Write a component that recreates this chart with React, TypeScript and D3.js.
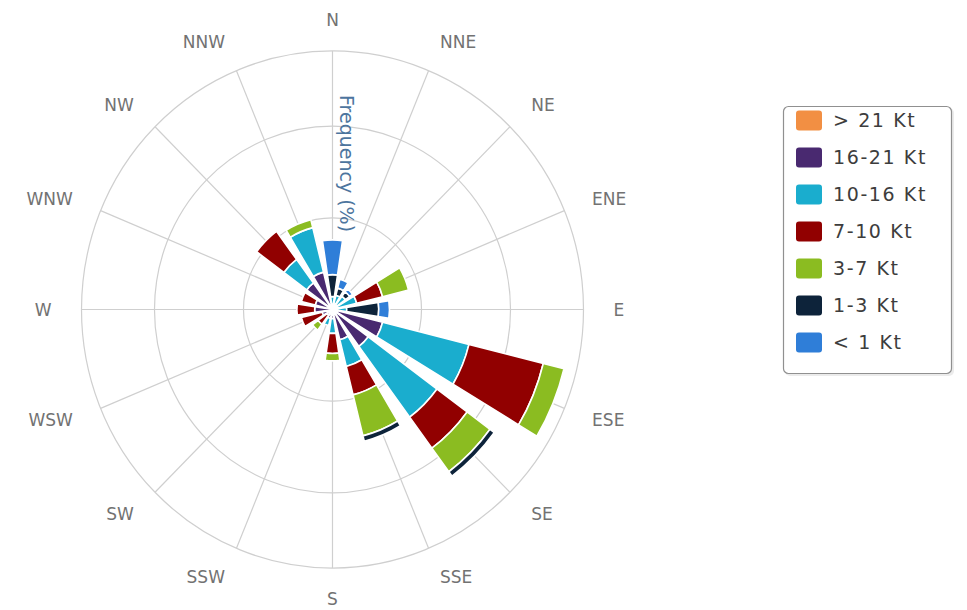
import { useEffect, useRef } from 'react';
import * as d3 from 'd3';

// 16 compass directions, clockwise from north
const directions = ['N', 'NNE', 'NE', 'ENE', 'E', 'ESE', 'SE', 'SSE', 'S', 'SSW', 'SW', 'WSW', 'W', 'WNW', 'NW', 'NNW'];

// frequency (%) per speed class, one value per direction
const over21 = [0, 0, 0, 0, 0, 0, 0, 0, 0, 0, 0, 0, 0, 0, 0, 0];
const kt16to21 = [0.3, 0.3, 0.3, 0.3, 0.3, 2.9, 2.5, 1.7, 0.5, 0.5, 0.4, 0.6, 1.0, 1.0, 1.8, 2.1];
const kt10to16 = [0.4, 0.5, 0.6, 1.1, 0.5, 5.0, 4.8, 1.5, 0.8, 0.4, 0, 0, 0, 0, 1.6, 2.5];
const kt7to10 = [0, 0, 0, 1.5, 0, 4.3, 2.1, 1.6, 1.1, 0, 0.6, 1.2, 1.0, 0.8, 1.9, 0];
const kt3to7 = [0, 0, 0, 1.5, 0, 1.2, 1.6, 2.3, 0.4, 0, 0.4, 0, 0, 0, 0, 0.45];
const kt1to3 = [1.2, 0.4, 0.3, 0, 1.8, 0, 0.3, 0.3, 0, 0, 0, 0, 0, 0, 0, 0];
const under1 = [1.9, 0.5, 0.2, 0, 0.6, 0, 0, 0, 0, 0, 0, 0, 0, 0, 0, 0];

// stacking order from the centre outwards (also the legend order, top to bottom)
const seriesKeys = ['> 21 Kt', '16-21 Kt', '10-16 Kt', '7-10 Kt', '3-7 Kt', '1-3 Kt', '< 1 Kt'];
const seriesValues = [over21, kt16to21, kt10to16, kt7to10, kt3to7, kt1to3, under1];
const seriesColors = ['#f28f43', '#492970', '#1aadce', '#910000', '#8bbc21', '#0d233a', '#2f7ed8'];

const yMax = 14.1;
const yTicks = [5, 10];

export default function App() {
  const svgRef = useRef<SVGSVGElement | null>(null);

  useEffect(() => {
    if (!svgRef.current) return;
    const W = 967, H = 610;
    const cx = 332.5, cy = 309.5;
    const R = 251;
    const sy = 1.03; // picture is slightly taller than wide

    const svg = d3.select(svgRef.current);
    svg.selectAll('*').remove();
    svg.attr('width', W).attr('height', H);

    const rows = directions.map((dir, i) => {
      const row: any = { dir };
      seriesKeys.forEach((k, j) => { row[k] = seriesValues[j][i]; });
      return row;
    });
    const stacked = d3.stack().keys(seriesKeys)(rows);

    const step = (2 * Math.PI) / directions.length;
    const x = d3.scaleBand()
      .domain(directions)
      .range([-step / 2, 2 * Math.PI - step / 2])
      .paddingInner(0.24)
      .paddingOuter(0.12);
    const r = d3.scaleLinear().domain([0, yMax]).range([0, R]);
    const mid = (d: string) => x(d)! + x.bandwidth() / 2;

    const g = svg.append('g').attr('transform', `translate(${cx},${cy}) scale(1,${sy})`);

    // grid: rings and spokes
    g.selectAll('circle.ring')
      .data([...yTicks, yMax])
      .join('circle')
      .attr('class', 'ring')
      .attr('r', (d) => r(d))
      .attr('fill', 'none')
      .attr('stroke', '#cfcfcf')
      .attr('stroke-width', 1.2);

    g.selectAll('line.spoke')
      .data(directions)
      .join('line')
      .attr('class', 'spoke')
      .attr('x1', 0).attr('y1', 0)
      .attr('x2', (d) => R * Math.sin(mid(d)))
      .attr('y2', (d) => -R * Math.cos(mid(d)))
      .attr('stroke', '#cfcfcf')
      .attr('stroke-width', 1.2);

    // stacked wedges
    const arc = d3.arc<any>()
      .innerRadius((d) => r(d[0]))
      .outerRadius((d) => r(d[1]))
      .startAngle((d) => x(d.data.dir)!)
      .endAngle((d) => x(d.data.dir)! + x.bandwidth());

    g.selectAll('g.series')
      .data(stacked)
      .join('g')
      .attr('class', 'series')
      .attr('fill', (_, i) => seriesColors[i])
      .selectAll('path')
      .data((s) => s.filter((d) => d[1] - d[0] > 0))
      .join('path')
      .attr('d', arc)
      .attr('stroke', '#ffffff')
      .attr('stroke-width', 1.6)
      .attr('stroke-linejoin', 'round');

    // direction labels
    const labelR = 281;
    svg.append('g')
      .selectAll('text')
      .data(directions)
      .join('text')
      .attr('x', (d) => cx + labelR * Math.sin(mid(d)))
      .attr('y', (d) => cy - labelR * sy * Math.cos(mid(d)))
      .attr('dy', '0.36em')
      .attr('text-anchor', (d, i) => (i === 0 || i === 8 ? 'middle' : i < 8 ? 'start' : 'end'))
      .attr('font-family', '"DejaVu Sans", Verdana, sans-serif')
      .attr('font-size', 17)
      .attr('fill', '#727272')
      .text((d) => d);

    // axis title
    svg.append('text')
      .attr('transform', `translate(340,95) rotate(90)`)
      .attr('font-family', '"DejaVu Sans", Verdana, sans-serif')
      .attr('font-size', 19)
      .attr('fill', '#4d759e')
      .text('Frequency (%)');

    // legend
    const lg = svg.append('g');
    lg.append('rect')
      .attr('x', 785).attr('y', 108).attr('width', 169).attr('height', 268)
      .attr('rx', 5).attr('fill', '#000').attr('opacity', 0.08);
    lg.append('rect')
      .attr('x', 783.5).attr('y', 106.5).attr('width', 168).attr('height', 267)
      .attr('rx', 5).attr('fill', '#fff').attr('stroke', '#909090').attr('stroke-width', 1.2);

    const legendOrder = seriesKeys.map((_, i) => i);
    const ly = d3.scaleBand<number>().domain(legendOrder).range([102, 361]);
    const items = lg.selectAll('g.item')
      .data(legendOrder)
      .join('g')
      .attr('class', 'item')
      .attr('transform', (i) => `translate(0,${ly(i)! + ly.bandwidth() / 2})`);
    items.append('rect')
      .attr('x', 796).attr('y', -10).attr('width', 26).attr('height', 20)
      .attr('rx', 3).attr('fill', (i) => seriesColors[i]);
    items.append('text')
      .attr('x', 833).attr('dy', '0.36em')
      .attr('font-family', '"DejaVu Sans", Verdana, sans-serif')
      .attr('font-size', 19)
      .attr('letter-spacing', 1.6)
      .attr('fill', '#3d3d3d')
      .text((i) => seriesKeys[i]);
  }, []);

  return <svg ref={svgRef} style={{ position: 'absolute', left: 0, top: 0, background: '#fff' }} />;
}
